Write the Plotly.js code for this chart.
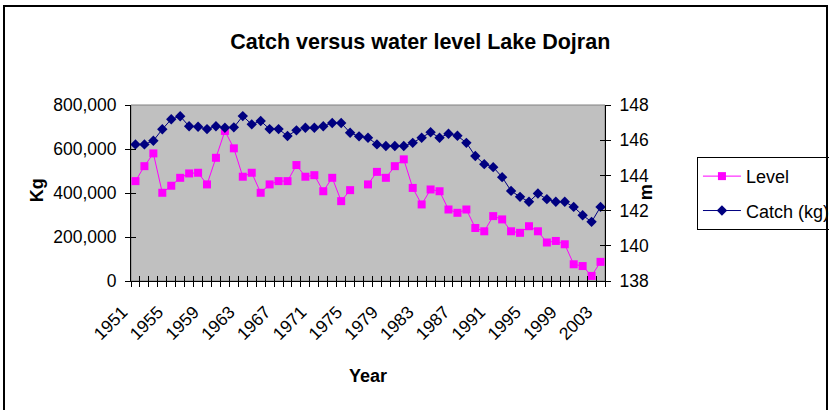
<!DOCTYPE html>
<html>
<head>
<meta charset="utf-8">
<script src="https://cdn.plot.ly/plotly-3.0.1.min.js"></script>
<style>
  html, body { margin: 0; padding: 0; background: #ffffff; overflow: hidden; }
  #wrap { position: relative; width: 829px; height: 410px; }
  #chart { width: 829px; height: 410px; }
  #frame { position: absolute; left: 3px; top: 5px; width: 821px; height: 420px;
           border: 2px solid #000; pointer-events: none; }
</style>
</head>
<body>
<div id="wrap">
  <div id="chart"></div>
  <div id="frame"></div>
</div>
<script>
// ---- data ----
const years = [1951,1952,1953,1954,1955,1956,1957,1958,1959,1960,
               1961,1962,1963,1964,1965,1966,1967,1968,1969,1970,
               1971,1972,1973,1974,1975,1976,1977,1978,1979,1980,
               1981,1982,1983,1984,1985,1986,1987,1988,1989,1990,
               1991,1992,1993,1994,1995,1996,1997,1998,1999,2000,
               2001,2002,2003];

// magenta series, legend "Level" (left axis, Kg)
const levelSeries = [454000,522000,580000,401000,433000,469000,489000,492000,439000,560000,
                     682000,603000,474000,492000,401000,439000,454000,454000,527000,474000,
                     481000,408000,469000,363000,413000,null,439000,496000,469000,522000,
                     553000,423000,348000,416000,408000,325000,310000,325000,241000,226000,
                     295000,280000,226000,219000,249000,226000,175000,182000,167000,76000,
                     68000,23000,87000];

// navy series, legend "Catch (kg)" (right axis, m)
const catchSeries = [145.76,145.76,145.97,146.62,147.19,147.36,146.79,146.76,146.63,146.79,
                     146.71,146.73,147.37,146.90,147.09,146.63,146.63,146.24,146.56,146.71,
                     146.71,146.79,146.98,146.98,146.42,146.22,146.14,145.76,145.67,145.67,
                     145.67,145.85,146.14,146.45,146.14,146.37,146.25,145.85,145.10,144.64,
                     144.47,143.90,143.12,142.78,142.50,142.97,142.65,142.50,142.50,142.21,
                     141.74,141.36,142.21];

const yearTicks = [1951,1955,1959,1963,1967,1971,1975,1979,1983,1987,1991,1995,1999,2003];
const yearTickText = ['1951','1955','1959','1963','1967','1971','1975','1979','1983','1987','1991','1995','1999','2003'];

const titleText = 'Catch versus water level Lake Dojran';
const xTitle = 'Year';
const yTitle = 'Kg';
const y2Title = 'm';

// ---- styles ----
const FONT = '"Liberation Sans", Arial, sans-serif';
const xRange = [1950.5, 2003.5];
const yRange = [0, 800000];
const y2Range = [138, 148];

const traces = [
  { x: years, y: levelSeries, name: 'Level', type: 'scatter', mode: 'lines+markers',
    xaxis: 'x', yaxis: 'y', connectgaps: false, legendgroup: 'a',
    line: { color: '#FF00FF', width: 1 },
    marker: { symbol: 'square', size: 8, color: '#FF00FF' } },
  { x: years, y: catchSeries, name: 'Catch (kg)', type: 'scatter', mode: 'lines+markers',
    xaxis: 'x', yaxis: 'y2', legendgroup: 'b',
    line: { color: '#000080', width: 1 },
    marker: { symbol: 'diamond', size: 8, color: '#000080' } },
  // empty helper traces so the tick-only overlay axes exist
  { x: [], y: [], xaxis: 'x2', yaxis: 'y', showlegend: false, hoverinfo: 'skip', type: 'scatter' },
  { x: [], y: [], xaxis: 'x3', yaxis: 'y', showlegend: false, hoverinfo: 'skip', type: 'scatter' },
  { x: [], y: [], xaxis: 'x', yaxis: 'y3', showlegend: false, hoverinfo: 'skip', type: 'scatter' },
  { x: [], y: [], xaxis: 'x', yaxis: 'y4', showlegend: false, hoverinfo: 'skip', type: 'scatter' }
];

const tickFont = { family: FONT, size: 17.5, color: '#000' };

const layout = {
  width: 829, height: 410,
  margin: { l: 131, r: 224, t: 105, b: 129, pad: 0, autoexpand: false },
  paper_bgcolor: '#ffffff',
  plot_bgcolor: '#C0C0C0',
  showlegend: true,
  title: { text: '<b>' + titleText + '</b>', x: 0.507, xanchor: 'center', y: 0.898, yanchor: 'middle',
           font: { family: FONT, size: 21.5, color: '#000' } },
  xaxis: { domain: [0, 1], range: xRange, anchor: 'y', tickmode: 'array', tickvals: yearTicks,
           ticktext: yearTickText, ticks: '', tickangle: -45, tickfont: tickFont,
           ticklabelstandoff: 13, ticklabelshift: -13,
           showline: true, linecolor: '#000', linewidth: 1, showgrid: false, zeroline: false },
  xaxis2: { overlaying: 'x', range: xRange, anchor: 'y', tickmode: 'linear', tick0: 1950.5, dtick: 1,
            ticks: 'outside', ticklen: 5, tickcolor: '#000', tickwidth: 1, showticklabels: false,
            showline: false, showgrid: false, zeroline: false },
  xaxis3: { overlaying: 'x', range: xRange, anchor: 'y', tickmode: 'linear', tick0: 1950.5, dtick: 1,
            ticks: 'inside', ticklen: 5, tickcolor: '#000', tickwidth: 1, showticklabels: false,
            showline: false, showgrid: false, zeroline: false },
  yaxis: { domain: [0, 1], range: yRange, anchor: 'x', tickmode: 'linear', tick0: 0, dtick: 200000,
           tickformat: ',d', ticks: 'outside', ticklen: 5, tickcolor: '#000', tickfont: tickFont,
           ticklabelstandoff: 5,
           showline: true, linecolor: '#000', linewidth: 1, showgrid: false, zeroline: false },
  yaxis3: { overlaying: 'y', side: 'left', range: yRange, anchor: 'x', tickmode: 'linear', tick0: 0, dtick: 200000,
            ticks: 'inside', ticklen: 5, tickcolor: '#000', showticklabels: false,
            showline: false, showgrid: false, zeroline: false },
  yaxis2: { overlaying: 'y', side: 'right', range: y2Range, anchor: 'x', tickmode: 'linear', tick0: 138, dtick: 2,
            ticks: 'outside', ticklen: 5, tickcolor: '#000', tickfont: tickFont, ticklabelstandoff: 5,
            showline: true, linecolor: '#000', linewidth: 1, showgrid: false, zeroline: false },
  yaxis4: { overlaying: 'y', side: 'right', range: y2Range, anchor: 'x', tickmode: 'linear', tick0: 138, dtick: 2,
            ticks: 'inside', ticklen: 5, tickcolor: '#000', showticklabels: false,
            showline: false, showgrid: false, zeroline: false },
  legend: { x: 1.194, xanchor: 'left', y: 0.705, yanchor: 'top',
            bgcolor: '#ffffff', bordercolor: '#000', borderwidth: 1, itemwidth: 38,
            font: { family: FONT, size: 18, color: '#000' }, tracegroupgap: 8 },
  shapes: [
    { type: 'rect', xref: 'paper', yref: 'paper', x0: 0, x1: 1, y0: 0, y1: 1,
      line: { color: '#808080', width: 1 }, layer: 'below' }
  ],
  annotations: [
    { text: '<b>' + yTitle + '</b>', xref: 'paper', yref: 'paper', x: -0.198, y: 0.517,
      xanchor: 'center', yanchor: 'middle',
      textangle: -90, showarrow: false, font: { family: FONT, size: 18, color: '#000' } },
    { text: '<b>' + y2Title + '</b>', xref: 'paper', yref: 'paper', x: 1.087, y: 0.506,
      xanchor: 'center', yanchor: 'middle',
      textangle: -90, showarrow: false, font: { family: FONT, size: 18, color: '#000' } },
    { text: '<b>' + xTitle + '</b>', xref: 'paper', yref: 'paper', x: 0.5, y: -0.54,
      xanchor: 'center', yanchor: 'middle',
      showarrow: false, font: { family: FONT, size: 18, color: '#000' } }
  ]
};

Plotly.newPlot('chart', traces, layout, { displayModeBar: false, staticPlot: true });
</script>
</body>
</html>
